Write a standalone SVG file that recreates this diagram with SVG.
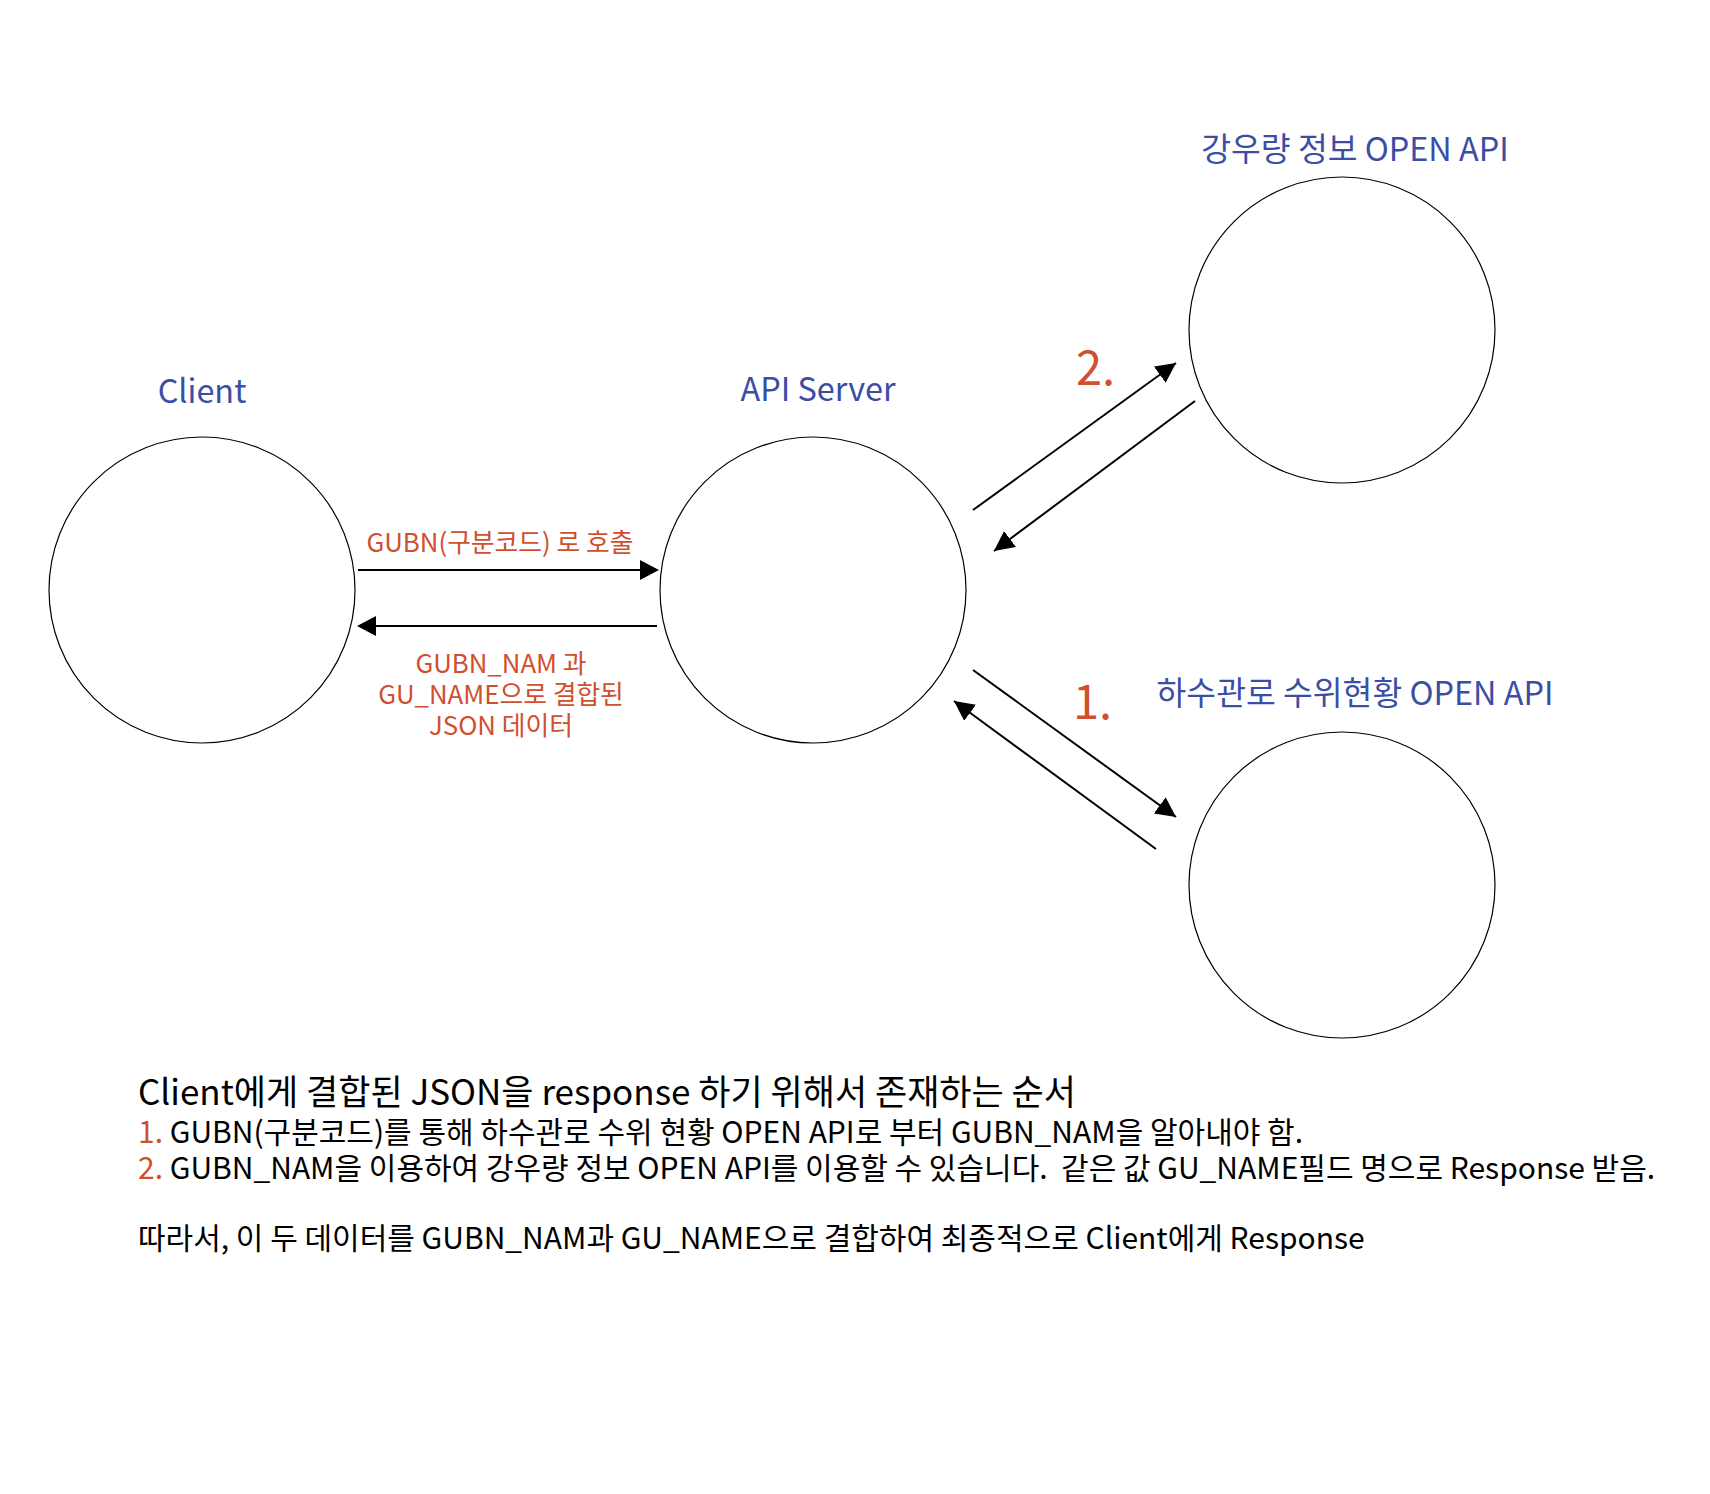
<svg xmlns="http://www.w3.org/2000/svg" width="1710" height="1494" viewBox="0 0 1710 1494">
<defs>
<style>
text{font-family:"Noto Sans CJK KR","Noto Sans",sans-serif}
.node{fill:#fff;stroke:#000;stroke-width:1.2}
.lbl{fill:#3b4ea6;font-size:32.4px;text-anchor:middle}
.elbl{fill:#d04f2e;font-size:25.8px;text-anchor:middle}
.num{fill:#d04f2e;font-size:47px}
.t{fill:#000;font-size:30px}
.title{fill:#000;font-size:35px}
.red{fill:#d04f2e}
</style>
<marker id="ah2" viewBox="0 0 20 20" refX="20" refY="10" markerWidth="20" markerHeight="20" markerUnits="userSpaceOnUse" orient="auto">
<path d="M0,0 L20,10 L0,20 z" fill="#000"/>
</marker>
</defs>
<rect width="1710" height="1494" fill="#fff"/>
<g id="client">
<circle class="node" cx="202" cy="590" r="153"/>
<text class="lbl" x="202" y="403">Client</text>
</g>
<g id="api-server">
<circle class="node" cx="813" cy="590" r="153"/>
<text class="lbl" x="818" y="401">API Server</text>
</g>
<g id="rain-api">
<circle class="node" cx="1342" cy="330" r="153"/>
<text class="lbl" x="1355" y="161">강우량 정보 OPEN API</text>
</g>
<g id="sewer-api">
<circle class="node" cx="1342" cy="885" r="153"/>
<text class="lbl" x="1355" y="705">하수관로 수위현황 OPEN API</text>
</g>
<g id="connectors">
<line x1="358" y1="570" x2="642" y2="570" stroke="#000" stroke-width="2"/>
<path d="M640,560 L659,570 L640,580 z"/>
<line x1="657" y1="626" x2="372" y2="626" stroke="#000" stroke-width="2"/>
<path d="M376,616 L357,626 L376,636 z"/>
<text class="elbl" x="500" y="552">GUBN(구분코드) 로 호출</text>
<text class="elbl" x="501" y="673">GUBN_NAM 과</text>
<text class="elbl" x="501" y="704">GU_NAME으로 결합된</text>
<text class="elbl" x="501" y="735">JSON 데이터</text>
<line x1="973" y1="510" x2="1176" y2="363" stroke="#000" stroke-width="2" marker-end="url(#ah2)"/>
<line x1="1195" y1="401" x2="994" y2="551" stroke="#000" stroke-width="2" marker-end="url(#ah2)"/>
<line x1="973" y1="670" x2="1176" y2="817" stroke="#000" stroke-width="2" marker-end="url(#ah2)"/>
<line x1="1156" y1="849" x2="954" y2="701" stroke="#000" stroke-width="2" marker-end="url(#ah2)"/>
<text class="num" x="1076" y="385">2.</text>
<text class="num" x="1073" y="719">1.</text>
</g>
<g id="notes">
<text class="title" x="138" y="1105">Client에게 결합된 JSON을 response 하기 위해서 존재하는 순서</text>
<text class="t" x="138" y="1143"><tspan class="red">1.</tspan> GUBN(구분코드)를 통해 하수관로 수위 현황 OPEN API로 부터 GUBN_NAM을 알아내야 함.</text>
<text class="t" x="138" y="1179" xml:space="preserve"><tspan class="red">2.</tspan> GUBN_NAM을 이용하여 강우량 정보 OPEN API를 이용할 수 있습니다.  같은 값 GU_NAME필드 명으로 Response 받음.</text>
<text class="t" x="138" y="1249">따라서, 이 두 데이터를 GUBN_NAM과 GU_NAME으로 결합하여 최종적으로 Client에게 Response</text>
</g>
</svg>
